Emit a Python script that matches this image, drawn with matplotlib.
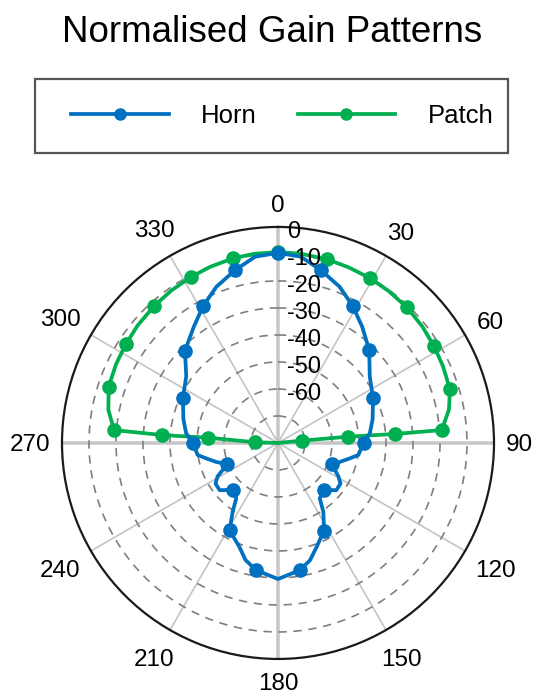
import numpy as np
import matplotlib.pyplot as plt
from matplotlib.patches import Rectangle
from matplotlib.transforms import ScaledTranslation

plt.rcParams['font.family'] = ['Liberation Sans', 'DejaVu Sans']

# ======================
# data
# ======================
TITLE = "Normalised Gain Patterns"
SERIES = ["Horn", "Patch"]
COLORS = ["#0070C0", "#00B050"]

ANGLE_TICKS = list(range(0, 360, 30))
ANGLE_LABELS = [str(a) for a in ANGLE_TICKS]
AXIS_LINES = [0, 90, 180, 270]
R_MIN, R_MAX = -80, 0
RING_TICKS = [-70, -60, -50, -40, -30, -20, -10]
RING_LABEL_VALUES = [0, -10, -20, -30, -40, -50, -60]
RING_LABELS = ["0", "-10", "-20", "-30", "-40", "-50", "-60"]

# horn: angle (deg, clockwise from north) and normalised gain (dB)
horn_deg = [0, 7, 14, 21.5, 28.6, 36, 44.5, 54, 64.9, 76, 84, 90,
            98.5, 102, 107, 111.6, 119, 123, 129, 135.6, 143, 146.6, 152.3,
            159.5, 164.7, 170.2, 180, 189.8, 195.5, 200.5, 209, 213.4, 217,
            223.6, 231, 237, 241, 247.2, 253, 258, 261.5, 270,
            276, 284, 295.4, 306, 314.7, 324, 331.3, 338.5, 346, 353, 360]
horn_db = [-9.6, -10.5, -14.1, -17.8, -22.2, -26.9, -31.8, -38.0, -41.1, -43.9, -45.8, -48.3,
           -49.9, -52.7, -56.0, -58.6, -54.4, -52.4, -52.2, -55.6, -54.3, -49.5, -43.3,
           -39.0, -35.0, -32.2, -29.6, -32.2, -35.0, -39.0, -43.0, -49.5, -54.3,
           -56.0, -52.2, -52.4, -54.4, -59.6, -56.0, -52.7, -49.9, -48.5,
           -45.8, -43.9, -41.0, -38.0, -31.5, -26.9, -22.2, -17.8, -14.1, -10.5, -9.6]
horn_marks = [0, 2, 4, 6, 8, 11, 15, 19, 22, 25, 27, 30, 33, 37, 41, 44, 46, 48, 50]

# patch
patch_deg = [-88.3, -88.3, -85.7, -86.1, -85.5, -79, -71.6, -64, -56.9, -50, -42.1,
             -35, -27.8, -21, -13.6, -7, 0, 7, 15, 22, 29.2, 36, 43.5, 51, 58.1,
             65, 72.7, 79, 85.5, 85.6, 84.9, 84.5, 84.5]
patch_db = [-80, -71.5, -54.1, -36.8, -19.1, -16.0, -13.9, -13.3, -12.8, -12.2, -11.6,
            -11.1, -10.6, -10.1, -9.6, -9.4, -9.3, -9.4, -9.6, -9.9, -10.1, -10.4, -10.7, -11.3, -12.0,
            -12.6, -13.3, -15.5, -19.2, -36.6, -53.9, -71.2, -80]
patch_marks = [1, 2, 3, 4, 6, 8, 10, 12, 14, 16, 18, 20, 22, 24, 26, 28, 29, 30, 31]

# ======================
# figure
# ======================
fig = plt.figure(figsize=(5.34, 6.98), dpi=100)
ax = fig.add_axes([0.1161, 0.0559, 0.809, 0.619], projection='polar')
ax.set_theta_zero_location('N')
ax.set_theta_direction(-1)
ax.set_rlim(R_MIN, R_MAX)

# grid
ax.set_xticks(np.deg2rad(ANGLE_TICKS))
ax.set_xticklabels([])
ax.tick_params(axis='x', length=0)
ax.xaxis.grid(True, color='#c4c4c4', linewidth=1.2)
for a in AXIS_LINES:
    ax.axvline(np.deg2rad(a), color='#d2d2d2', linewidth=2.8, zorder=1)

ax.set_yticks(RING_TICKS)
ax.set_yticklabels([])
ax.yaxis.grid(True, color='#7f7f7f', linewidth=1.2, linestyle=(0, (5, 4)))
ax.spines['polar'].set_color('#1a1a1a')
ax.spines['polar'].set_linewidth(1.6)

# angle labels: box kept a fixed gap outside the circle
renderer = fig.canvas.get_renderer()
gap = 12
for a, s in zip(ANGLE_TICKS, ANGLE_LABELS):
    t = ax.text(np.deg2rad(a), R_MAX, s, fontsize=17.5, ha='center', va='center',
                clip_on=False)
    bb = t.get_window_extent(renderer)
    sx, sy = np.sin(np.deg2rad(a)), np.cos(np.deg2rad(a))
    d = gap + bb.width / 2 * abs(sx) + bb.height / 2 * abs(sy)
    t.set_transform(ax.transData + ScaledTranslation(d * sx / 100, (d * sy - 2.5) / 100,
                                                     fig.dpi_scale_trans))

lbl_off = ScaledTranslation(9 / 100, -5 / 100, fig.dpi_scale_trans)
for v, s in zip(RING_LABEL_VALUES, RING_LABELS):
    ax.text(0, v, s, fontsize=17, ha='left', va='center',
            transform=ax.transData + lbl_off, zorder=6)

# series
ax.plot(np.deg2rad(patch_deg), patch_db, color=COLORS[1], linewidth=2.7,
        marker='o', markersize=9.5, markevery=patch_marks, label=SERIES[1], zorder=3)
ax.plot(np.deg2rad(horn_deg), horn_db, color=COLORS[0], linewidth=2.7,
        marker='o', markersize=9.5, markevery=horn_marks, label=SERIES[0], zorder=4)

# legend with its own frame box
handles, labels = ax.get_legend_handles_labels()
order = [1, 0]
leg = fig.legend([handles[i] for i in order], [labels[i] for i in order],
                 loc='center left', bbox_to_anchor=(71 / 534, 1 - 116 / 698),
                 ncol=2, fontsize=18.5, frameon=False, numpoints=1,
                 handlelength=3.8, handletextpad=1.25, columnspacing=1.6,
                 borderpad=0, borderaxespad=0)
for h in leg.legend_handles:
    h.set_markevery([1])
    h.set_markersize(8)
fig.patches.append(Rectangle((35 / 534, 1 - 153 / 698), 473 / 534, 74 / 698,
                             transform=fig.transFigure, fill=False,
                             edgecolor='#555555', linewidth=1.6))

fig.text(0.51, 0.954, TITLE, fontsize=26.5, ha='center', va='center')

fig.savefig('out.png', dpi=100)
